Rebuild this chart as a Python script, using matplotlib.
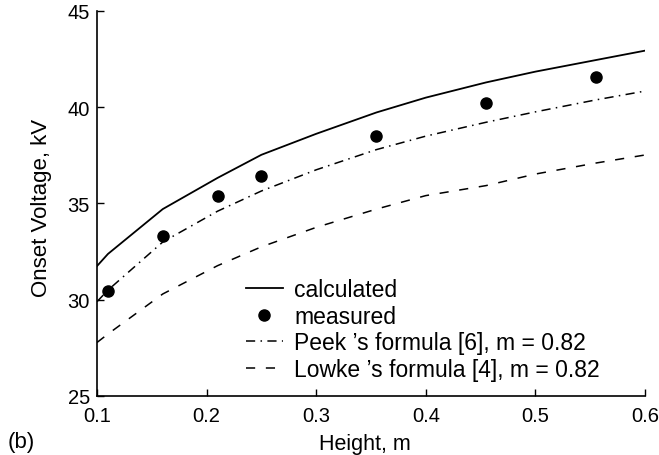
import matplotlib
matplotlib.use('Agg')
from matplotlib import pyplot as plt

plt.rcParams['font.family'] = ['Liberation Sans', 'DejaVu Sans']

# line curves (height in m, voltage in kV)
heights = [0.1, 0.11, 0.16, 0.21, 0.25, 0.3, 0.355, 0.4, 0.455, 0.5, 0.555, 0.6]
calculated = [31.75, 32.38, 34.71, 36.33, 37.53, 38.62, 39.73, 40.5, 41.29, 41.85, 42.45, 42.94]
peek = [29.9, 30.5, 33.0, 34.6, 35.65, 36.75, 37.8, 38.5, 39.22, 39.76, 40.38, 40.84]
lowke = [27.78, 28.22, 30.3, 31.77, 32.75, 33.76, 34.71, 35.41, 35.93, 36.53, 37.1, 37.52]

# measured points
meas_h = [0.11, 0.16, 0.21, 0.25, 0.355, 0.455, 0.555]
meas_v = [30.47, 33.29, 35.39, 36.45, 38.52, 40.2, 41.56]

xticks = [0.1, 0.2, 0.3, 0.4, 0.5, 0.6]
yticks = [25, 30, 35, 40, 45]

fig = plt.figure(figsize=(6.59, 4.56), dpi=100)
ax = fig.add_axes([0.1472, 0.1294, 0.8316, 0.8443])

ax.plot(heights, calculated, color='black', lw=1.3, label='calculated')
ax.plot(meas_h, meas_v, 'o', color='black', markersize=8, label='measured')
ax.plot(heights, peek, color='black', lw=1.1, dashes=[6, 3.5, 1, 3.5],
        label="Peek \u2019s formula [6], m = 0.82")
ax.plot(heights, lowke, color='black', lw=1.1, dashes=[6, 7],
        label="Lowke \u2019s formula [4], m = 0.82")

ax.set_xlim(0.1, 0.6)
ax.set_ylim(25, 45)
ax.set_xticks(xticks)
ax.set_xticklabels(['0.1', '0.2', '0.3', '0.4', '0.5', '0.6'])
ax.set_yticks(yticks)
ax.spines['top'].set_visible(False)
ax.spines['right'].set_visible(False)
ax.spines['left'].set_linewidth(1.2)
ax.spines['bottom'].set_linewidth(1.2)
ax.tick_params(direction='in', length=5, labelsize=14.5, width=1, pad=5)
ax.tick_params(axis='x', pad=7)
ax.set_xlabel('Height, m', fontsize=15.5)
ax.set_ylabel('Onset Voltage, kV', fontsize=16)
ax.xaxis.set_label_coords(0.489, -0.095)
ax.yaxis.set_label_coords(-0.083, 0.49)

ax.legend(loc='lower left', bbox_to_anchor=(0.272, 0.04), frameon=False, fontsize=16.5,
          handlelength=1.6, handletextpad=0.5, labelspacing=0.15, borderpad=0,
          borderaxespad=0)

fig.text(0.012, 0.03, '(b)', fontsize=16, va='center')

fig.savefig('out.png', dpi=100)
